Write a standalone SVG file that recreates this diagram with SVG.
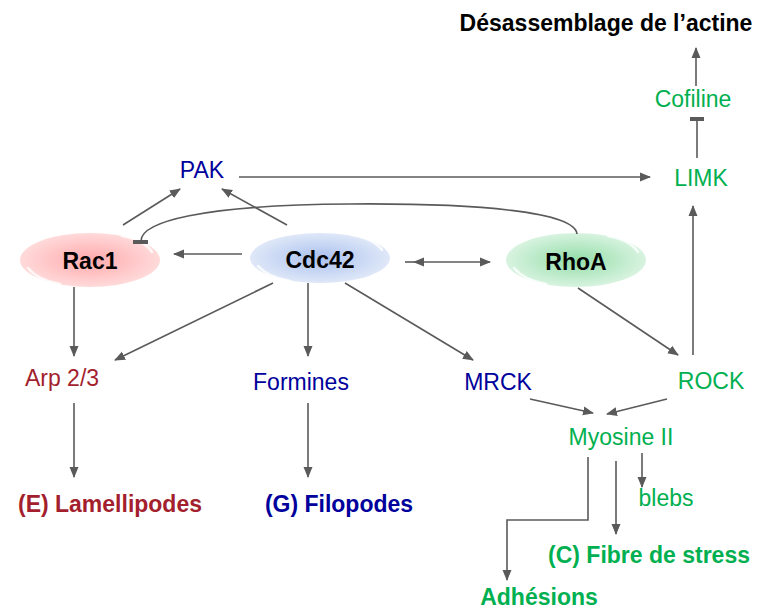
<svg xmlns="http://www.w3.org/2000/svg" width="760" height="611" viewBox="0 0 760 611">
<style>
.t{font-family:"Liberation Sans",Arial,sans-serif;font-size:23px;text-anchor:middle}
.b{font-weight:bold}
.k{fill:#000}
.r{fill:#a31f2e}
.u{fill:#00009c}
.g{fill:#00b050}
.ln{fill:none;stroke:#5a5a5a;stroke-width:1.6}
.ar{marker-end:url(#ah)}
.shine{fill:none;stroke:#fff;stroke-width:2.5;stroke-linecap:round;opacity:0.8}
</style>
<defs>
<marker id="ah" markerUnits="userSpaceOnUse" markerWidth="11" markerHeight="10" viewBox="0 0 11 10" refX="10" refY="5" orient="auto-start-reverse">
<path d="M0,0.5 L11,5 L0,9.5 z" fill="#5a5a5a"/>
</marker>
<radialGradient id="gR" cx="0.5" cy="0.5" r="0.5">
<stop offset="0" stop-color="#ffa9ac"/>
<stop offset="1" stop-color="#ffdada"/>
</radialGradient>
<radialGradient id="gC" cx="0.5" cy="0.5" r="0.5">
<stop offset="0" stop-color="#aac0ee"/>
<stop offset="1" stop-color="#dfe8f8"/>
</radialGradient>
<radialGradient id="gG" cx="0.5" cy="0.5" r="0.5">
<stop offset="0" stop-color="#93dea8"/>
<stop offset="1" stop-color="#d8f3e0"/>
</radialGradient>
</defs>

<g id="rac1">
<ellipse cx="90" cy="260" rx="70" ry="27" fill="url(#gR)"/>
<path class="shine" d="M28,268 Q38,280 60,284"/>
<path class="shine" d="M152,252 Q144,240 122,236"/>
<text class="t b k" x="90" y="269">Rac1</text>
</g>
<g id="cdc42">
<ellipse cx="320" cy="258" rx="70" ry="25" fill="url(#gC)"/>
<path class="shine" d="M258,266 Q268,277 290,281"/>
<path class="shine" d="M382,250 Q374,239 352,235"/>
<text class="t b k" x="320" y="268">Cdc42</text>
</g>
<g id="rhoa">
<ellipse cx="576" cy="260" rx="70" ry="27" fill="url(#gG)"/>
<path class="shine" d="M514,268 Q524,280 546,284"/>
<path class="shine" d="M638,252 Q630,240 608,236"/>
<text class="t b k" x="576" y="270">RhoA</text>
</g>
<g id="title"><text class="t b k" x="606" y="31">Désassemblage de l’actine</text></g>
<g id="cofiline"><text class="t g" x="693" y="107">Cofiline</text></g>
<g id="limk"><text class="t g" x="701" y="186">LIMK</text></g>
<g id="pak"><text class="t u" x="202" y="178">PAK</text></g>
<g id="arp"><text class="t r" x="62" y="386">Arp 2/3</text></g>
<g id="formines"><text class="t u" x="301" y="390">Formines</text></g>
<g id="mrck"><text class="t u" x="498" y="390">MRCK</text></g>
<g id="rock"><text class="t g" x="711" y="389">ROCK</text></g>
<g id="myosine"><text class="t g" x="621" y="445">Myosine II</text></g>
<g id="blebs"><text class="t g" x="666" y="506">blebs</text></g>
<g id="lamellipodes"><text class="t b r" x="110" y="512">(E) Lamellipodes</text></g>
<g id="filopodes"><text class="t b u" x="339" y="512">(G) Filopodes</text></g>
<g id="fibre"><text class="t b g" x="649" y="563">(C) Fibre de stress</text></g>
<g id="adhesions"><text class="t b g" x="539" y="605">Adhésions</text></g>

<g id="connectors">
<line class="ln ar" x1="242" y1="254" x2="174" y2="254"/>
<line class="ln ar" x1="414" y1="262" x2="490" y2="262" style="marker-start:url(#ah)"/>
<line class="ln" x1="405" y1="262" x2="414" y2="262"/>
<line class="ln ar" x1="123" y1="225" x2="180" y2="189"/>
<line class="ln ar" x1="287" y1="225" x2="222" y2="189"/>
<line class="ln ar" x1="239" y1="177" x2="650" y2="177"/>
<path class="ln" d="M141,241 C141,222 200,205 350,204 C480,203 575,212 577,234"/>
<rect x="133" y="240" width="15" height="4" fill="#5a5a5a"/>
<line class="ln" x1="697" y1="158" x2="697" y2="120"/>
<rect x="690" y="117" width="14" height="4" fill="#5a5a5a"/>
<line class="ln ar" x1="696" y1="86" x2="696" y2="48"/>
<line class="ln ar" x1="693" y1="355" x2="693" y2="206"/>
<line class="ln ar" x1="74" y1="287" x2="74" y2="356"/>
<line class="ln ar" x1="74" y1="403" x2="74" y2="477"/>
<line class="ln ar" x1="273" y1="283" x2="115" y2="360"/>
<line class="ln ar" x1="308" y1="283" x2="308" y2="356"/>
<line class="ln ar" x1="308" y1="403" x2="308" y2="477"/>
<line class="ln ar" x1="345" y1="283" x2="473" y2="360"/>
<line class="ln ar" x1="578" y1="288" x2="678" y2="355"/>
<line class="ln ar" x1="530" y1="399" x2="593" y2="413"/>
<line class="ln ar" x1="667" y1="399" x2="607" y2="414"/>
<line class="ln ar" x1="642" y1="453" x2="642" y2="487"/>
<line class="ln ar" x1="616" y1="461" x2="616" y2="534"/>
<polyline class="ln ar" points="588,457 588,520 507,520 507,580"/>
</g>
</svg>
